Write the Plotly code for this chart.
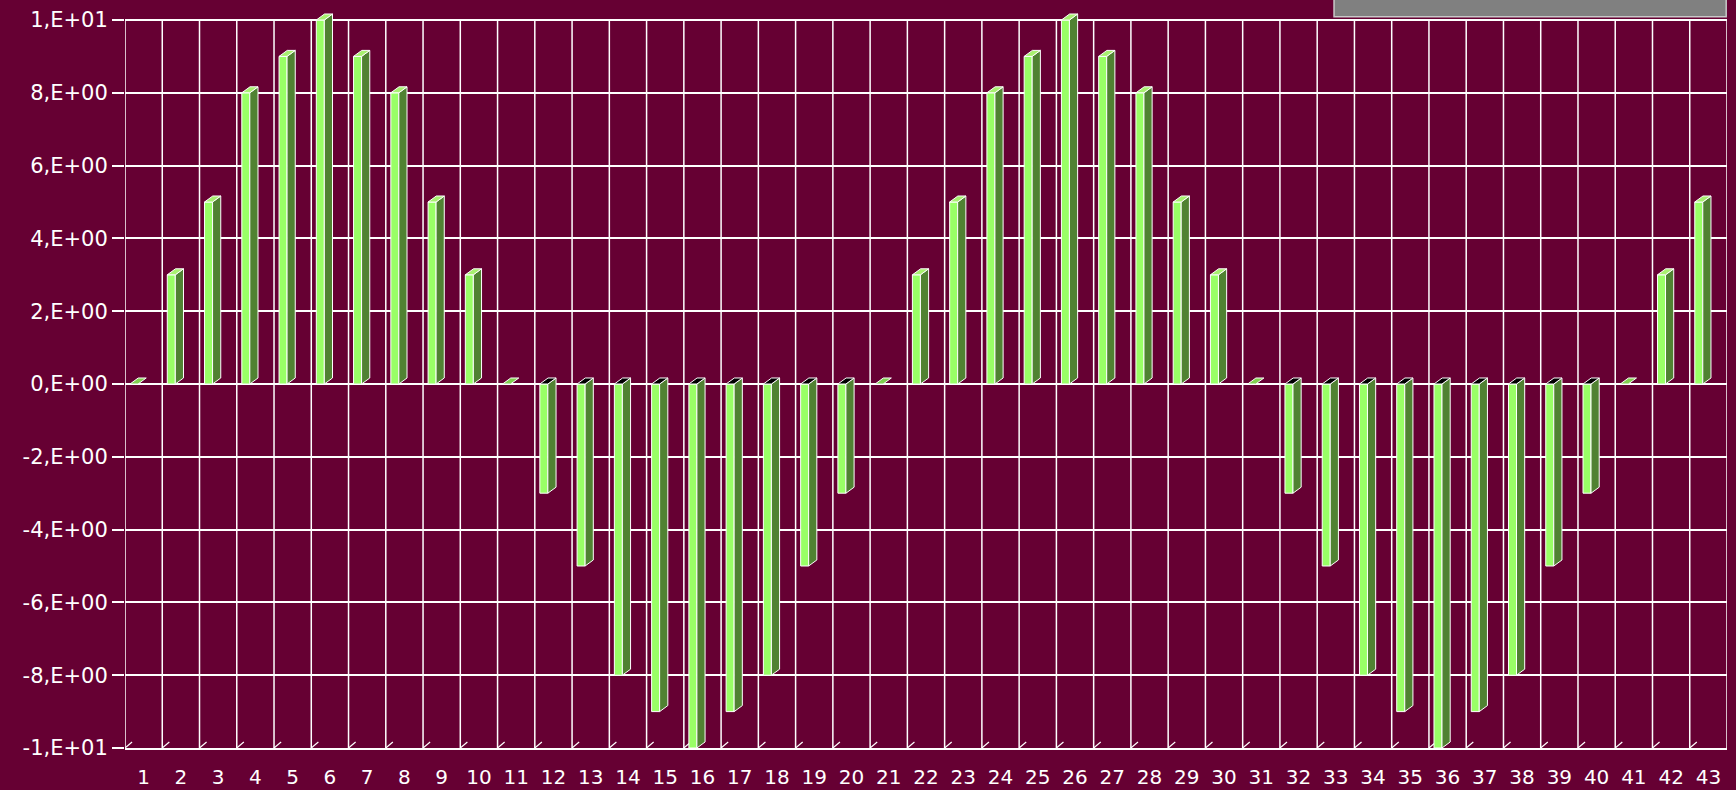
import plotly.graph_objects as go

categories = list(range(1, 44))
values = [0, 3, 5, 8, 9, 10, 9, 8, 5, 3,
          0, -3, -5, -8, -9, -10, -9, -8, -5, -3,
          0, 3, 5, 8, 9, 10, 9, 8, 5, 3,
          0, -3, -5, -8, -9, -10, -9, -8, -5, -3,
          0, 3, 5]
y_ticks = [-10, -8, -6, -4, -2, 0, 2, 4, 6, 8, 10]


def sci_label(v):
    if v == 0:
        return "0,E+00"
    sign = "-" if v < 0 else ""
    a = abs(v)
    e = 0
    while a >= 10:
        a /= 10
        e += 1
    return f"{sign}{int(round(a))},E+{e:02d}"


y_text = [sci_label(v) for v in y_ticks]

BG = "#660033"
FRONT = "#99FF66"
SIDE = "#508232"
TOP_POS = "#A8F070"
TOP_NEG = "#000000"
TOP_ZERO = "#80D050"

FL = -0.365   # front-left offset (x units)
FW = 0.215    # front width
DX = 0.22     # depth x
DY = 0.165    # depth y

YMIN, YMAX = y_ticks[0], y_ticks[-1]

front_x, front_y = [], []
side_x, side_y = [], []
tp_x, tp_y, tn_x, tn_y, tz_x, tz_y = [], [], [], [], [], []
for c, v in zip(categories, values):
    xl = c + FL
    xr = xl + FW
    if v != 0:
        front_x += [xl, xr, xr, xl, xl, None]
        front_y += [0, 0, v, v, 0, None]
        side_x += [xr, xr, xr + DX, xr + DX, xr, None]
        side_y += [0, v, v + DY, DY, 0, None]
    ty = v if v > 0 else 0
    px = [xl, xr, xr + DX, xl + DX, xl, None]
    py = [ty, ty, ty + DY, ty + DY, ty, None]
    if v > 0:
        tp_x += px; tp_y += py
    elif v < 0:
        tn_x += px; tn_y += py
    else:
        tz_x += px; tz_y += py

bounds = [c - 0.5 for c in categories] + [categories[-1] + 0.5]
floor_x, floor_y = [], []
vgrid_x, vgrid_y = [], []
for b in bounds:
    floor_x += [b, b + 0.19, None]
    floor_y += [YMIN, YMIN + DY, None]
    vgrid_x += [b, b, None]
    vgrid_y += [YMIN, YMAX, None]

fig = go.Figure()
line_w = dict(color="white", width=1)
fig.add_trace(go.Scatter(x=vgrid_x, y=vgrid_y, mode="lines",
                         line=dict(color="white", width=1.5),
                         hoverinfo="skip", cliponaxis=False))
fig.add_trace(go.Scatter(x=floor_x, y=floor_y, mode="lines",
                         line=dict(color="white", width=1.2),
                         hoverinfo="skip", cliponaxis=False))
fig.add_trace(go.Scatter(x=front_x, y=front_y, mode="lines", fill="toself",
                         fillcolor=FRONT, line=line_w, hoverinfo="skip",
                         cliponaxis=False))
fig.add_trace(go.Scatter(x=side_x, y=side_y, mode="lines", fill="toself",
                         fillcolor=SIDE, line=line_w, hoverinfo="skip",
                         cliponaxis=False))
for xs, ys, col in [(tp_x, tp_y, TOP_POS), (tn_x, tn_y, TOP_NEG),
                    (tz_x, tz_y, TOP_ZERO)]:
    fig.add_trace(go.Scatter(x=xs, y=ys, mode="lines", fill="toself",
                             fillcolor=col, line=line_w, hoverinfo="skip",
                             cliponaxis=False))

# pixel geometry: y=10 at 20px, y=-10 at 748px -> 36.4 px per unit
T_MARGIN, B_MARGIN = 11, 42
plot_h = 790 - T_MARGIN - B_MARGIN
y_top = YMIN + plot_h / 36.4
plot_bottom_px = 790 - B_MARGIN

fig.update_layout(
    width=1736, height=790,
    margin=dict(l=125, r=9, t=T_MARGIN, b=B_MARGIN, autoexpand=False),
    paper_bgcolor=BG, plot_bgcolor=BG,
    showlegend=False,
    font=dict(family="DejaVu Sans, sans-serif", color="white"),
    xaxis=dict(
        range=[0.5, 43.5], tickmode="array", tickvals=categories,
        ticktext=[str(c) for c in categories],
        showgrid=False, zeroline=False, automargin=False,
        ticks="outside", ticklen=10, tickcolor="rgba(0,0,0,0)",
        tickfont=dict(size=20, color="white"),
        showline=True, linecolor="white", linewidth=1.5,
    ),
    yaxis=dict(
        range=[YMIN, y_top], tickmode="array", tickvals=y_ticks, ticktext=y_text,
        showgrid=True, gridcolor="white", gridwidth=1.5, zeroline=False,
        automargin=False,
        ticks="outside", ticklen=12, tickcolor="white", tickwidth=1.5,
        tickfont=dict(size=21, color="white"),
        showline=False,
    ),
    shapes=[dict(type="rect", xref="paper", yref="paper",
                 x0=0.7547, x1=0.9995,
                 y0=(plot_bottom_px - 16.7) / plot_h,
                 y1=(plot_bottom_px + 4) / plot_h,
                 fillcolor="#808080", line=dict(color="#c8c8c8", width=1.5),
                 layer="above")],
)

fig.write_html(
    "out.html",
    config={"displayModeBar": False},
    post_script="document.body.style.margin='0';document.body.style.background='%s';" % BG,
)
